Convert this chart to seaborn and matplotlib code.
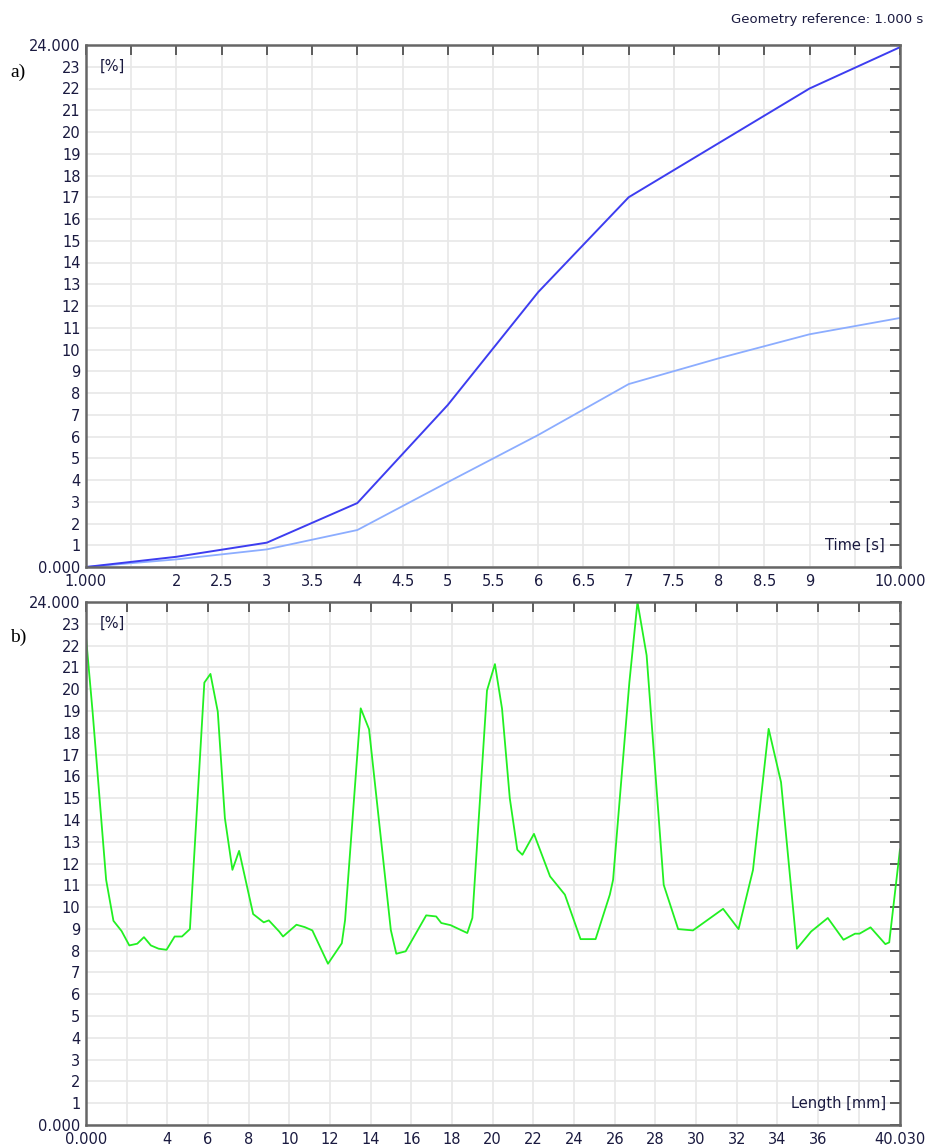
import numpy as np
import pandas as pd
import seaborn as sns
import matplotlib.pyplot as plt
from matplotlib.ticker import FixedLocator

# a) strain vs time
time_s = [1, 2, 3, 4, 5, 6, 7, 8, 9, 10]
strain_dark = [0.0, 0.47, 1.12, 2.94, 7.45, 12.64, 17.0, 19.5, 22.0, 23.9]
strain_light = [0.0, 0.35, 0.81, 1.70, 3.9, 6.07, 8.41, 9.6, 10.7, 11.45]

# b) strain along the length
length_mm = [0.0, 0.33, 0.99, 1.35, 1.75, 2.13, 2.52, 2.85, 3.19, 3.57, 3.96,
             4.36, 4.72, 5.11, 5.82, 6.12, 6.48, 6.83, 7.2, 7.53, 8.22, 8.74,
             8.99, 9.5, 9.69, 10.35, 10.76, 11.13, 11.9, 12.58, 12.74, 13.51,
             13.92, 14.99, 15.26, 15.72, 16.73, 17.22, 17.47, 17.93, 18.75,
             19.0, 19.72, 20.11, 20.46, 20.84, 21.21, 21.46, 22.03, 22.82,
             23.55, 24.32, 25.06, 25.76, 25.92, 26.72, 27.12, 27.57, 28.41,
             29.12, 29.85, 31.33, 32.09, 32.8, 33.57, 34.18, 34.96, 35.66,
             36.48, 37.25, 37.82, 38.04, 38.58, 39.31, 39.5, 40.03]
strain_len = [22.4, 18.9, 11.25, 9.37, 8.9, 8.24, 8.32, 8.62, 8.24, 8.09, 8.04,
              8.65, 8.65, 8.99, 20.3, 20.7, 18.97, 14.08, 11.71, 12.58, 9.68, 9.3,
              9.39, 8.88, 8.65, 9.19, 9.08, 8.93, 7.4, 8.34, 9.4, 19.12,
              18.16, 8.95, 7.86, 7.97, 9.62, 9.57, 9.27, 9.17, 8.81,
              9.5, 19.94, 21.15, 19.1, 15.0, 12.63, 12.4, 13.36, 11.41,
              10.57, 8.53, 8.53, 10.57, 11.25, 20.3, 24.0, 21.55, 11.02,
              8.99, 8.93, 9.92, 8.99, 11.7, 18.18, 15.73, 8.09, 8.88,
              9.5, 8.5, 8.78, 8.78, 9.07, 8.3, 8.38, 12.66]

time_ticks = [1 + 0.5 * i for i in range(19)]
time_labels = ['1.000', ''] + [f'{t:g}' for t in time_ticks[2:-2]] + ['', '10.000']
len_ticks = list(range(0, 40, 2)) + [40.03]
len_labels = ['0.000', ''] + [str(t) for t in range(4, 38, 2)] + ['', '40.030']
y_labels = ['0.000'] + [str(i) for i in range(1, 24)] + ['24.000']

sns.set_theme(style="whitegrid")
plt.rcParams['font.family'] = ['DejaVu Sans']

txt_color = '#1a1a40'

fig = plt.figure(figsize=(9.27, 11.46), dpi=100)
ax1 = fig.add_axes([86 / 927, 1 - 567 / 1146, 814 / 927, 522 / 1146])
ax2 = fig.add_axes([86 / 927, 1 - 1125 / 1146, 814 / 927, 523 / 1146])

df_a = pd.DataFrame({'t': time_s, 'dark': strain_dark, 'light': strain_light})
df_b = pd.DataFrame({'L': length_mm, 'e': strain_len})

sns.lineplot(data=df_a, x='t', y='light', ax=ax1, color='#8cadff', linewidth=1.3)
sns.lineplot(data=df_a, x='t', y='dark', ax=ax1, color='#3d3df0', linewidth=1.4)
sns.lineplot(data=df_b, x='L', y='e', ax=ax2, color='#22f022', linewidth=1.3)


def style_axes(ax, xticks, xlabels, xmin, xmax):
    ax.set_xlim(xmin, xmax)
    ax.set_ylim(0, 24)
    ax.xaxis.set_major_locator(FixedLocator(xticks))
    ax.set_xticklabels(xlabels)
    ax.yaxis.set_major_locator(FixedLocator(range(25)))
    ax.set_yticklabels(y_labels)
    ax.tick_params(direction='in', length=7, width=1.2, color='#444444',
                   top=True, right=True, labeltop=False, labelright=False,
                   labelsize=10.5, labelcolor=txt_color)
    ax.tick_params(axis='x', pad=5)
    ax.tick_params(axis='y', pad=4)
    for s in ax.spines.values():
        s.set_color('#666666')
        s.set_linewidth(1.8)
    ax.grid(True, color='#e8e8e8', linewidth=1.2)
    ax.set_xlabel('')
    ax.set_ylabel('')
    ax.text(14 / 814, 23 / 24, '[%]', transform=ax.transAxes, ha='left',
            va='center', fontsize=10.5, color=txt_color)


style_axes(ax1, time_ticks, time_labels, 1, 10)
style_axes(ax2, len_ticks, len_labels, 0, 40.03)

ax1.text(799 / 814, 1 / 24, 'Time [s]', transform=ax1.transAxes, ha='right',
         va='center', fontsize=10.5, color=txt_color)
ax2.text(800 / 814, 1 / 24, 'Length [mm]', transform=ax2.transAxes, ha='right',
         va='center', fontsize=10.5, color=txt_color)

fig.text(923 / 927, 1 - 20 / 1146, 'Geometry reference: 1.000 s', ha='right',
         va='center', fontsize=9.5, color=txt_color)
fig.text(10 / 927, 1 - 72 / 1146, 'a)', ha='left', va='center', fontsize=14,
         family='Liberation Serif', color='black')
fig.text(10 / 927, 1 - 637 / 1146, 'b)', ha='left', va='center', fontsize=14,
         family='Liberation Serif', color='black')

fig.savefig('out.png', dpi=100)
